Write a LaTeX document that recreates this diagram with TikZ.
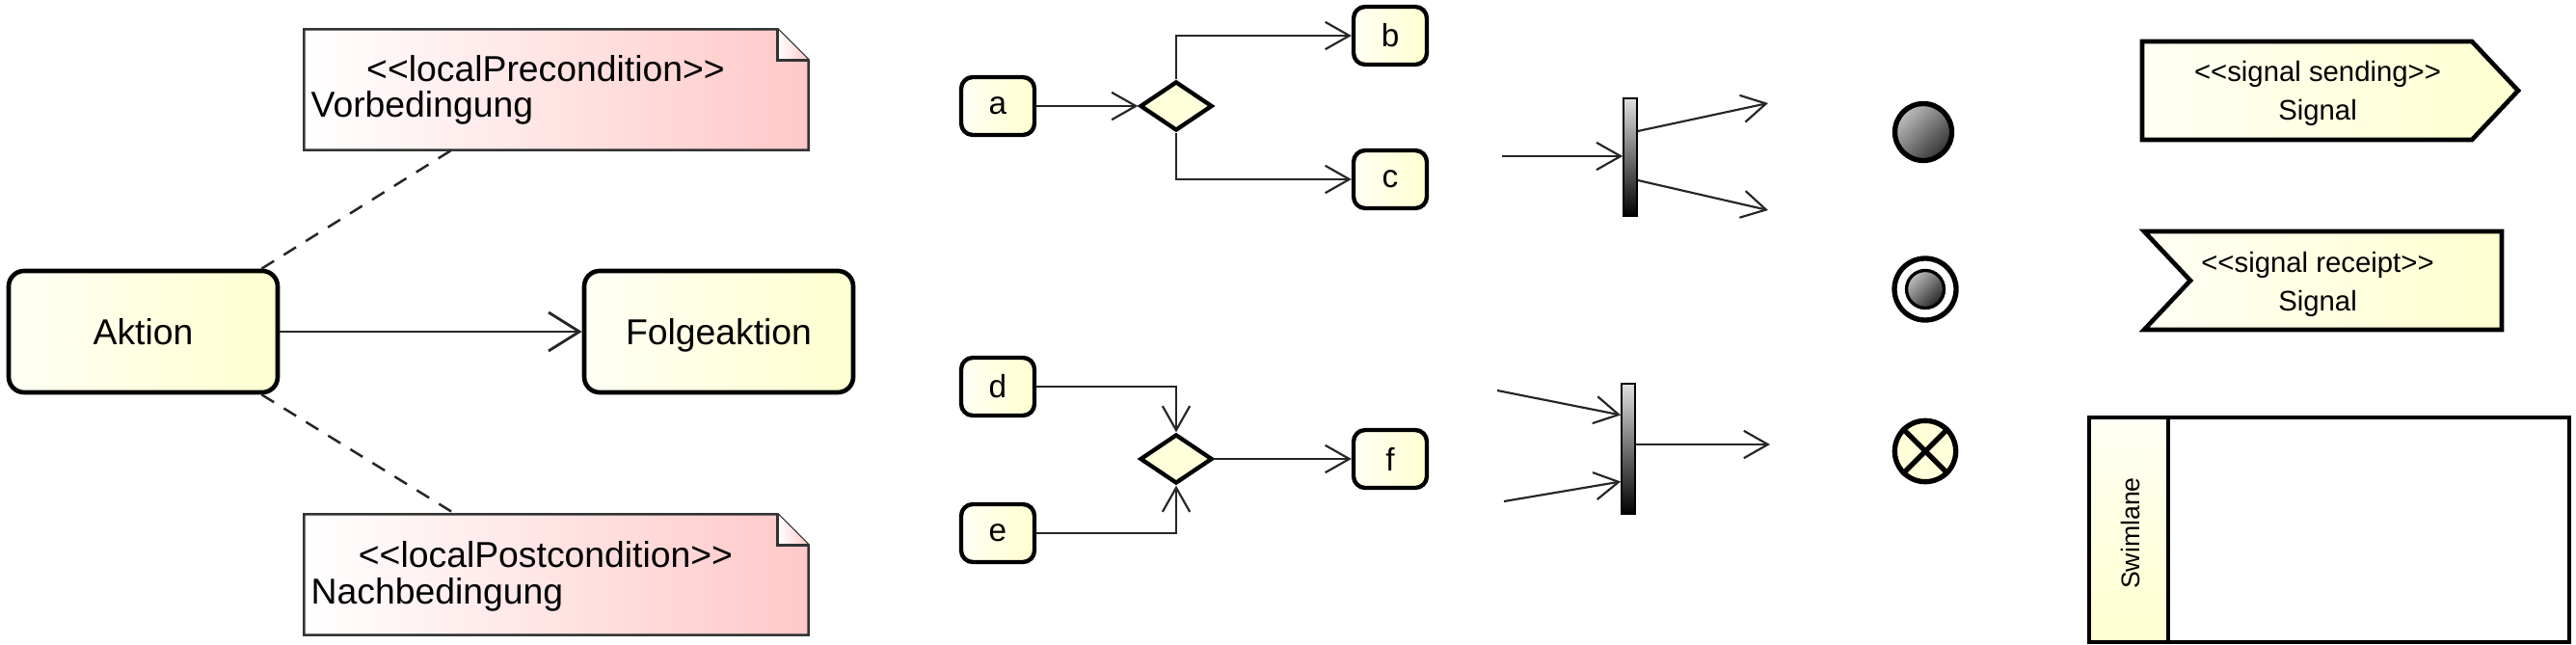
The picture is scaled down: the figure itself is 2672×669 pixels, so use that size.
\documentclass[tikz,border=0pt]{standalone}
\usepackage{fontspec}
\setmainfont{Liberation Sans}
\usetikzlibrary{shapes.geometric,arrows.meta,calc}

\definecolor{actfill}{RGB}{255,255,208}
\definecolor{actlight}{RGB}{255,255,244}
\definecolor{notefill}{RGB}{255,200,200}
\newcommand{\stereo}[1]{<{}<#1>{}>}

\begin{document}
\begin{tikzpicture}[
  x=0.3pt, y=-0.3pt,
  action/.style={draw, line width=1.4pt, rounded corners=4.8pt, left color=actlight, right color=actfill, minimum width=83.7pt, minimum height=37.8pt, text height=0.8em, text depth=0pt, font=\fontsize{11.2}{13}\selectfont},
  smallbox/.style={draw, line width=1.3pt, rounded corners=3.6pt, left color=actlight, right color=actfill, minimum width=22.8pt, minimum height=18pt, inner sep=0pt, font=\fontsize{10}{12}\selectfont},
  decision/.style={diamond, draw, line width=1.3pt, fill=actfill!75, minimum width=22.5pt, minimum height=15.3pt, inner sep=0pt},
  flow/.style={draw=black!85, line width=0.65pt, -{Straight Barb[length=7.5pt, width=8.5pt]}},
  bigflow/.style={draw=black!85, line width=0.85pt, -{Straight Barb[length=9.6pt, width=12pt]}},
  notebox/.style={minimum width=156.6pt, minimum height=37.2pt, inner sep=0pt},
  note/.style={draw=black!80, line width=0.75pt, left color=white, right color=notefill},
  notetext/.style={inner sep=0pt, font=\fontsize{11.2}{11.2}\selectfont},
  anchorline/.style={draw=black!85, line width=0.75pt, dash pattern=on 4.5pt off 3.6pt},
  bar/.style={draw, line width=0.5pt, top color=black!12, bottom color=black, minimum width=4.2pt, minimum height=36.6pt, inner sep=0pt},
  initial/.style={circle, draw, line width=1.6pt, top color=black!25, bottom color=black!80, shading angle=45, minimum size=17.7pt, inner sep=0pt},
  signalbox/.style={draw, line width=1.4pt, left color=actlight, right color=actfill},
  sigtext/.style={align=center, inner sep=0pt, font=\fontsize{8.8}{12}\selectfont}
]
  \useasboundingbox (0,0) rectangle (2672,669);

  \node[action] (akt) at (148.5,344) {Aktion};
  \node[action] (folge) at (745.5,344) {Folgeaktion};
  \draw[bigflow] (akt) -- (folge);

  \node[notebox] (pre) at (577,93) {};
  \shadedraw[note] (pre.north west) -- ([xshift=-9.6pt]pre.north east) -- ([yshift=-9.6pt]pre.north east) -- (pre.south east) -- (pre.south west) -- cycle;
  \draw[note, fill=none] ([xshift=-9.6pt]pre.north east) |- ([yshift=-9.6pt]pre.north east);
  \node[notetext, anchor=base] (pretag) at (566,85) {\stereo{localPrecondition}};
  \node[notetext, anchor=base west] (prename) at (322,122) {Vorbedingung};

  \node[notebox] (post) at (577,596) {};
  \shadedraw[note] (post.north west) -- ([xshift=-9.6pt]post.north east) -- ([yshift=-9.6pt]post.north east) -- (post.south east) -- (post.south west) -- cycle;
  \draw[note, fill=none] ([xshift=-9.6pt]post.north east) |- ([yshift=-9.6pt]post.north east);
  \node[notetext, anchor=base] (posttag) at (566,588) {\stereo{localPostcondition}};
  \node[notetext, anchor=base west] (postname) at (322,626) {Nachbedingung};

  \draw[anchorline] (akt.28.6) -- (pre.210.8);
  \draw[anchorline] (akt.-28.6) -- (post.149.5);

  \node[smallbox] (a) at (1035,110) {a};
  \node[decision] (dec1) at (1220,110) {};
  \node[smallbox] (b) at (1442,37) {b};
  \node[smallbox] (c) at (1442,186) {c};
  \draw[flow] (a) -- (dec1);
  \draw[flow] (dec1.north) |- (b);
  \draw[flow] (dec1.south) |- (c);

  \node[smallbox] (d) at (1035,401) {d};
  \node[smallbox] (e) at (1035,553) {e};
  \node[decision] (dec2) at (1220,476) {};
  \node[smallbox] (f) at (1442,476) {f};
  \draw[flow] (d) -| (dec2);
  \draw[flow] (e) -| (dec2);
  \draw[flow] (dec2) -- (f);

  \node[bar] (fork) at (1691,163) {};
  \coordinate (forkin) at (1558,162);
  \coordinate (forkout1) at (1834,107);
  \coordinate (forkout2) at (1834,218);
  \draw[flow] (forkin) -- (forkin -| fork.west);
  \draw[flow] ($(fork.east)+(0,-27)$) -- (forkout1);
  \draw[flow] ($(fork.east)+(0,24)$) -- (forkout2);

  \node[bar, minimum height=40.5pt] (join) at (1689,465.5) {};
  \coordinate (joinin1) at (1553,405);
  \coordinate (joinin2) at (1560,520);
  \coordinate (joinout) at (1836,461);
  \draw[flow] (joinin1) -- ($(join.west)+(0,-35)$);
  \draw[flow] (joinin2) -- ($(join.west)+(0,34)$);
  \draw[flow] ($(join.east)+(0,-4.5)$) -- (joinout);

  \node[initial] (start) at (1995,137) {};
  \node[circle, draw, line width=1.6pt, fill=white, minimum size=19.2pt, inner sep=0pt] (final) at (1997,300) {};
  \node[circle, draw, line width=1pt, top color=black!25, bottom color=black!85, shading angle=45, minimum size=11.7pt, inner sep=0pt] (finalin) at (final) {};
  \node[circle, draw, line width=1.6pt, fill=actfill!80, minimum size=19pt, inner sep=0pt] (flowend) at (1997,468) {};
  \draw[line width=1.6pt] (flowend.45) -- (flowend.225) (flowend.135) -- (flowend.315);

  \shadedraw[signalbox] (2222,43) -- (2564,43) -- (2612,94) -- (2564,145) -- (2222,145) -- cycle;
  \node[sigtext] (send) at (2404,97) {\stereo{signal sending}\\Signal};
  \shadedraw[signalbox] (2224,240) -- (2595,240) -- (2595,342) -- (2224,342) -- (2272,291) -- cycle;
  \node[sigtext] (receive) at (2404,295) {\stereo{signal receipt}\\Signal};

  \draw[line width=1.3pt] (2167,433) rectangle (2665,666);
  \shadedraw[line width=1.3pt, top color=actlight, bottom color=actfill] (2167,433) rectangle (2249,666);
  \node[rotate=90, inner sep=0pt, font=\fontsize{8}{10}\selectfont] (lane) at (2210,553) {Swimlane};
\end{tikzpicture}
\end{document}
